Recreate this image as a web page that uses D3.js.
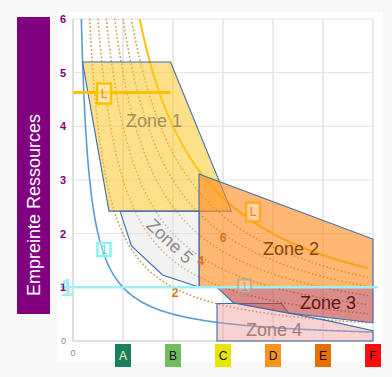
<!DOCTYPE html>
<html>
<head>
<meta charset="utf-8">
<script src="https://cdn.jsdelivr.net/npm/d3@7"></script>
<style>
  html, body { margin: 0; padding: 0; background: #f8f8f8; }
  svg { display: block; font-family: "Liberation Sans", Arial, sans-serif; }
</style>
</head>
<body>
<script>
// chart values
const categories = ["A", "B", "C", "D", "E", "F"];
const yTicks = [0, 1, 2, 3, 4, 5, 6];
const isoLevels = [2, 3, 4, 5, 6, 7];          // dotted curves x*y = k
const isoLabels = [{k: 2, x: 2.04}, {k: 4, x: 2.55}, {k: 6, x: 3.0}];
const goldLevel = 8;                           // solid gold curve x*y = 8
const blueLevel = 1;                           // blue curve x*y = 1
const limitLine = {y: 4.63, x0: 0, x1: 1.95};
const refLine = 1;

const zone1 = [[0.19, 5.2], [1.95, 5.2], [3.17, 2.42], [0.72, 2.42]];
const zone2 = [[2.52, 3.11], [6, 1.9], [6, 1.0], [2.52, 1.0]];
const zone3 = [[2.88, 1.0], [6, 1.0], [6, 0.34], [4.31, 0.52], [3.21, 0.71]];
const zone4 = [[2.88, 0.7], [4.17, 0.7], [4.31, 0.52], [5.14, 0.37], [6, 0.19], [6, 0], [2.88, 0]];
const zone5 = [[0.94, 2.42], [2.53, 2.42], [2.53, 1.0], [1.79, 1.23], [1.17, 1.77]];

const W = 392, H = 377;
const plot = {left: 73, right: 373, top: 19, bottom: 341};

const svg = d3.select("body").append("svg").attr("width", W).attr("height", H);

// white panel
svg.append("rect").attr("x", 57).attr("y", 12).attr("width", 326).attr("height", 350).attr("fill", "#fff");

const x = d3.scaleLinear().domain([0, 6]).range([plot.left, plot.right]);
const y = d3.scaleLinear().domain([0, 6]).range([plot.bottom, plot.top]);

svg.append("clipPath").attr("id", "clip")
  .append("rect").attr("x", plot.left).attr("y", plot.top)
  .attr("width", plot.right - plot.left).attr("height", plot.bottom - plot.top);

// grid
const grid = svg.append("g");
grid.selectAll("line.h").data(yTicks.slice(1)).enter().append("line")
  .attr("x1", plot.left).attr("x2", plot.right)
  .attr("y1", d => y(d)).attr("y2", d => y(d))
  .attr("stroke", "#e2e2e2").attr("stroke-width", 1);
grid.selectAll("line.v").data(d3.range(1, 7)).enter().append("line")
  .attr("y1", plot.top).attr("y2", plot.bottom)
  .attr("x1", d => x(d)).attr("x2", d => x(d))
  .attr("stroke", "#e2e2e2").attr("stroke-width", 1.5);
svg.append("line").attr("x1", plot.left).attr("x2", plot.left).attr("y1", plot.top).attr("y2", plot.bottom)
  .attr("stroke", "#d4d4d4").attr("stroke-width", 1.5);
svg.append("line").attr("x1", plot.left).attr("x2", plot.right).attr("y1", plot.bottom).attr("y2", plot.bottom)
  .attr("stroke", "#d4d4d4").attr("stroke-width", 1.5);

// hyperbolas
const curveLine = d3.line().x(d => x(d[0])).y(d => y(d[1]));
function hyper(k, xEnd) {
  const xs = d3.range(k / 6.5, xEnd, 0.02);
  xs.push(xEnd);
  return xs.map(v => [v, k / v]);
}
const curves = svg.append("g").attr("clip-path", "url(#clip)");
curves.selectAll("path.iso").data(isoLevels).enter().append("path")
  .attr("d", k => curveLine(hyper(k, 5.9)))
  .attr("fill", "none").attr("stroke", "#c69a45").attr("stroke-width", 1.6)
  .attr("stroke-dasharray", "1.6,2.2");
curves.append("path").attr("d", curveLine(hyper(blueLevel, 6)))
  .attr("fill", "none").attr("stroke", "#5b9bd5").attr("stroke-width", 1.6);
curves.append("path").attr("d", curveLine(hyper(goldLevel, 5.9)))
  .attr("fill", "none").attr("stroke", "#ffc000").attr("stroke-width", 2);

// zones
const zoneLine = d3.line().x(d => x(d[0])).y(d => y(d[1])).curve(d3.curveLinearClosed);
const zones = [
  {pts: zone5, fill: "#e6e6e6", op: 0.5},
  {pts: zone1, fill: "#ffc629", op: 0.55},
  {pts: zone2, fill: "#ff8a1e", op: 0.62},
  {pts: zone4, fill: "#f09a9a", op: 0.45},
  {pts: zone3, fill: "#c0403a", op: 0.6}
];
svg.append("g").selectAll("path").data(zones).enter().append("path")
  .attr("d", d => zoneLine(d.pts))
  .attr("fill", d => d.fill).attr("fill-opacity", d => d.op)
  .attr("stroke", "#3c6db0").attr("stroke-width", 1.1);

// zone labels
const zoneText = svg.append("g").attr("font-size", 18);
zoneText.append("text").attr("x", 154).attr("y", 127).attr("text-anchor", "middle").attr("fill", "#a38e5c").text("Zone 1");
zoneText.append("text").attr("x", 291).attr("y", 255).attr("text-anchor", "middle").attr("fill", "#8a4300").text("Zone 2");
zoneText.append("text").attr("x", 328).attr("y", 309).attr("text-anchor", "middle").attr("fill", "#5e1616").text("Zone 3");
zoneText.append("text").attr("x", 274).attr("y", 336).attr("text-anchor", "middle").attr("fill", "#a07c7c").text("Zone 4");
zoneText.append("text").attr("transform", "translate(170,241) rotate(43)").attr("dy", "0.35em")
  .attr("text-anchor", "middle").attr("fill", "#8d8d8d").text("Zone 5");

// iso labels
svg.append("g").selectAll("text").data(isoLabels).enter().append("text")
  .attr("x", d => x(d.x)).attr("y", d => y(d.k / d.x) + 4)
  .attr("dy", "0.35em").attr("text-anchor", "middle")
  .attr("font-size", 12).attr("font-weight", "bold").attr("fill", "#d9741e")
  .text(d => d.k);

// limit line
svg.append("line").attr("x1", x(limitLine.x0)).attr("x2", x(limitLine.x1))
  .attr("y1", y(limitLine.y)).attr("y2", y(limitLine.y))
  .attr("stroke", "#ffc000").attr("stroke-width", 3);

// reference line at 1
svg.append("line").attr("x1", 60).attr("x2", 378).attr("y1", y(refLine)).attr("y2", y(refLine))
  .attr("stroke", "#9ff0f2").attr("stroke-width", 2.5);

// label boxes
function box(cx, cy, w, h, stroke, textColor, label, op) {
  const g = svg.append("g").attr("opacity", op || 1);
  g.append("rect").attr("x", cx - w / 2).attr("y", cy - h / 2).attr("width", w).attr("height", h)
    .attr("fill", "#fff").attr("fill-opacity", 0.35).attr("stroke", stroke).attr("stroke-width", 2.5);
  g.append("text").attr("x", cx).attr("y", cy).attr("dy", "0.36em").attr("text-anchor", "middle")
    .attr("font-size", 12).attr("fill", textColor).text(label);
}
box(x(0.62), y(limitLine.y) + 1, 14, 20, "#ffc000", "#f07a1a", "L");
box(253, 212, 14, 19, "#ffa820", "#f07a1a", "L");
box(104, 249.5, 13, 13, "#8ff0f2", "#5fd6d8", "1");
box(x(3.43), y(refLine) - 1, 13, 14, "#a8a88c", "#8f8f80", "1", 0.55);

// y ticks
svg.append("g").selectAll("text").data(yTicks).enter().append("text")
  .attr("x", 66).attr("y", d => y(d)).attr("dy", "0.35em").attr("text-anchor", "end")
  .attr("font-size", d => d === 0 ? 9 : 11).attr("font-weight", d => d === 0 ? "normal" : "bold")
  .attr("fill", d => d === 0 ? "#888" : "#800080")
  .text(d => d);
svg.append("text").attr("x", x(0)).attr("y", 353).attr("dy", "0.35em").attr("text-anchor", "middle")
  .attr("font-size", 9).attr("fill", "#888").text("0");

// big cyan 1
svg.append("text").attr("x", 67).attr("y", y(refLine)).attr("dy", "0.36em").attr("text-anchor", "middle")
  .attr("font-size", 23).attr("font-weight", "bold").attr("fill", "#9ff0f2").text("1");

// category boxes
const catColor = d3.scaleOrdinal().domain(categories)
  .range(["#1a8060", "#6fbd5f", "#e6e600", "#f7941d", "#e76f00", "#ff0d0d"]);
const cats = svg.append("g").selectAll("g").data(categories).enter().append("g")
  .attr("transform", (d, i) => `translate(${x(i + 1)},355.5)`);
cats.append("rect").attr("x", -8).attr("y", -11.5).attr("width", 16).attr("height", 23)
  .attr("fill", d => catColor(d));
cats.append("text").attr("dy", "0.36em").attr("text-anchor", "middle").attr("font-size", 12)
  .attr("fill", d => d === "A" ? "#f0f4d0" : "#111").text(d => d);

// y title
svg.append("rect").attr("x", 17).attr("y", 17).attr("width", 33).attr("height", 297).attr("fill", "#800080");
svg.append("text").attr("transform", "translate(40,205) rotate(-90)").attr("text-anchor", "middle")
  .attr("font-size", 18).attr("fill", "#fff").text("Empreinte Ressources");
</script>
</body>
</html>
